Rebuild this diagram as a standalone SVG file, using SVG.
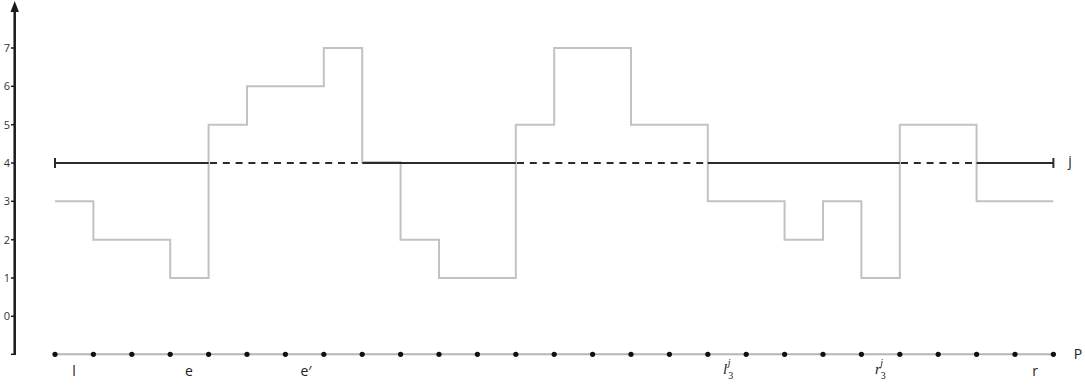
<svg xmlns="http://www.w3.org/2000/svg" width="1085" height="385" viewBox="0 0 1085 385">
<style>
.ax{stroke:#1a1a1a;stroke-width:2.5;fill:none}
.tk{stroke:#1a1a1a;stroke-width:1.5}
.tl{font-family:"Open Sans","Liberation Sans",sans-serif;font-size:11px;fill:#333;text-anchor:end}
.lb{font-family:"Open Sans","Liberation Sans",sans-serif;font-size:14px;fill:#222;text-anchor:middle}
.mt{font-family:"Liberation Serif","DejaVu Serif",serif;font-style:italic;fill:#222}
.step{stroke:#c2c2c2;stroke-width:2;fill:none}
.jl{stroke:#2b2b2b;stroke-width:2;fill:none}
.jd{stroke:#2b2b2b;stroke-width:2;fill:none;stroke-dasharray:7 5.8}
.pl{stroke:#b5b5b5;stroke-width:2}
.dot{fill:#111}
</style>
<g id="axis">
<line class="ax" x1="14.7" y1="355" x2="14.7" y2="10"/>
<polygon points="14.7,1 10.5,12 18.9,12" fill="#1a1a1a"/>
<line class="tk" x1="11" y1="48" x2="15" y2="48"/>
<line class="tk" x1="11" y1="86.3" x2="15" y2="86.3"/>
<line class="tk" x1="11" y1="124.7" x2="15" y2="124.7"/>
<line class="tk" x1="11" y1="163" x2="15" y2="163"/>
<line class="tk" x1="11" y1="201.3" x2="15" y2="201.3"/>
<line class="tk" x1="11" y1="239.7" x2="15" y2="239.7"/>
<line class="tk" x1="11" y1="278" x2="15" y2="278"/>
<line class="tk" x1="11" y1="316.3" x2="15" y2="316.3"/>
<line class="tk" x1="11" y1="354.3" x2="15" y2="354.3"/>
<text class="tl" x="10" y="52">7</text>
<text class="tl" x="10" y="90.3">6</text>
<text class="tl" x="10" y="128.7">5</text>
<text class="tl" x="10" y="167">4</text>
<text class="tl" x="10" y="205.3">3</text>
<text class="tl" x="10" y="243.7">2</text>
<text class="tl" x="10" y="282">1</text>
<text class="tl" x="10" y="320.3">0</text>
</g>
<g id="step-function">
<path class="step" d="M55,201.3 H93.4 V239.7 H170.2 V278 H208.6 V124.7 H247 V86.3 H323.8 V48 H362.2 V162 H400.6 V239.7 H439 V278 H515.8 V124.7 H554.2 V48 H631 V124.7 H707.8 V201.3 H784.6 V239.7 H823 V201.3 H861.4 V278 H899.8 V124.7 H976.6 V201.3 H1053.4"/>
</g>
<g id="j-line">
<line class="jl" x1="55" y1="163" x2="208.6" y2="163"/>
<line class="jd" x1="210" y1="163" x2="362.2" y2="163"/>
<line class="jl" x1="362.2" y1="163" x2="515.8" y2="163"/>
<line class="jd" x1="517" y1="163" x2="707.8" y2="163"/>
<line class="jl" x1="707.8" y1="163" x2="899.8" y2="163"/>
<line class="jd" x1="901" y1="163" x2="976.6" y2="163"/>
<line class="jl" x1="976.6" y1="163" x2="1053.4" y2="163"/>
<line class="jl" x1="55" y1="158" x2="55" y2="168"/>
<line class="jl" x1="1053.4" y1="158" x2="1053.4" y2="168"/>
<text class="lb" x="1070" y="166">j</text>
</g>
<g id="P-line">
<line class="pl" x1="55" y1="354.3" x2="1053.4" y2="354.3"/>
<g class="dot">
<circle cx="55" cy="354.3" r="2.6"/><circle cx="93.4" cy="354.3" r="2.6"/><circle cx="131.8" cy="354.3" r="2.6"/><circle cx="170.2" cy="354.3" r="2.6"/><circle cx="208.6" cy="354.3" r="2.6"/><circle cx="247" cy="354.3" r="2.6"/><circle cx="285.4" cy="354.3" r="2.6"/><circle cx="323.8" cy="354.3" r="2.6"/><circle cx="362.2" cy="354.3" r="2.6"/><circle cx="400.6" cy="354.3" r="2.6"/><circle cx="439" cy="354.3" r="2.6"/><circle cx="477.4" cy="354.3" r="2.6"/><circle cx="515.8" cy="354.3" r="2.6"/><circle cx="554.2" cy="354.3" r="2.6"/><circle cx="592.6" cy="354.3" r="2.6"/><circle cx="631" cy="354.3" r="2.6"/><circle cx="669.4" cy="354.3" r="2.6"/><circle cx="707.8" cy="354.3" r="2.6"/><circle cx="746.2" cy="354.3" r="2.6"/><circle cx="784.6" cy="354.3" r="2.6"/><circle cx="823" cy="354.3" r="2.6"/><circle cx="861.4" cy="354.3" r="2.6"/><circle cx="899.8" cy="354.3" r="2.6"/><circle cx="938.2" cy="354.3" r="2.6"/><circle cx="976.6" cy="354.3" r="2.6"/><circle cx="1015" cy="354.3" r="2.6"/><circle cx="1053.4" cy="354.3" r="2.6"/>
</g>
<text class="lb" x="1078" y="359">P</text>
<text class="lb" x="74" y="376">l</text>
<text class="lb" x="189" y="376">e</text>
<text class="lb" x="306" y="376">e′</text>
<text class="lb" x="1035" y="376">r</text>
<text class="mt" x="723" y="374" font-size="15">l<tspan font-size="10" font-style="normal" dx="1" dy="5">3</tspan><tspan font-size="10" dx="-5.5" dy="-13">j</tspan></text>
<text class="mt" x="875" y="374" font-size="15">r<tspan font-size="10" font-style="normal" dx="0" dy="5">3</tspan><tspan font-size="10" dx="-5.5" dy="-13">j</tspan></text>
</g>
</svg>
